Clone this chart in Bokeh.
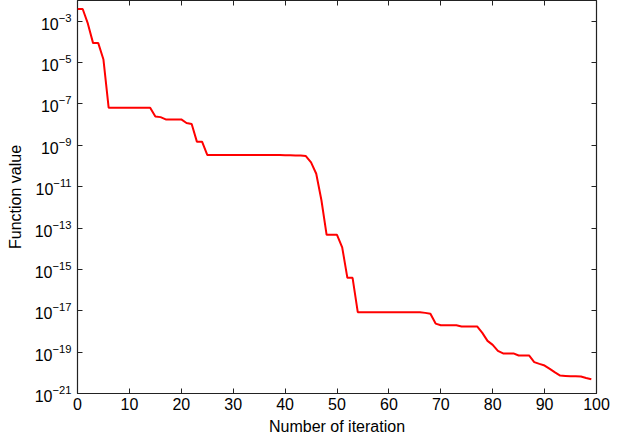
from bokeh.plotting import figure
from bokeh.models import FixedTicker, LogAxis, LinearAxis, CustomJSTickFormatter, Range1d
from bokeh.embed import file_html
from bokeh.resources import INLINE

iterations = list(range(100))
function_value = [
    3.9e-3, 3.9e-3, 7.6e-4, 8.7e-5, 8.7e-5, 1.4e-5, 6.6e-8, 6.6e-8, 6.6e-8, 6.6e-8,
    6.6e-8, 6.6e-8, 6.6e-8, 6.6e-8, 6.6e-8, 2.45e-8, 2.3e-8, 1.78e-8, 1.78e-8, 1.78e-8,
    1.78e-8, 1.2e-8, 1.07e-8, 1.5e-9, 1.5e-9, 3.4e-10, 3.4e-10, 3.4e-10, 3.4e-10, 3.4e-10,
    3.4e-10, 3.4e-10, 3.4e-10, 3.4e-10, 3.4e-10, 3.4e-10, 3.4e-10, 3.4e-10, 3.4e-10, 3.35e-10,
    3.3e-10, 3.28e-10, 3.24e-10, 3.2e-10, 3.0e-10, 1.48e-10, 4.2e-11, 2.2e-12, 4.7e-14, 4.7e-14,
    4.7e-14, 1.17e-14, 3.9e-16, 3.9e-16, 8.5e-18, 8.5e-18, 8.5e-18, 8.5e-18, 8.5e-18, 8.5e-18,
    8.5e-18, 8.5e-18, 8.5e-18, 8.5e-18, 8.5e-18, 8.5e-18, 8.5e-18, 7.9e-18, 7.2e-18, 2.4e-18,
    2.0e-18, 2.0e-18, 2.0e-18, 2.0e-18, 1.74e-18, 1.74e-18, 1.74e-18, 1.74e-18, 8.5e-19, 3.5e-19,
    2.24e-19, 1.15e-19, 8.7e-20, 8.7e-20, 8.7e-20, 6.9e-20, 6.9e-20, 6.9e-20, 3.3e-20, 2.7e-20,
    2.24e-20, 1.55e-20, 1.05e-20, 7.4e-21, 7.1e-21, 6.8e-21, 6.8e-21, 6.6e-21, 5.6e-21, 4.9e-21,
]
x_ticks = [0, 10, 20, 30, 40, 50, 60, 70, 80, 90, 100]
y_ticks = [1e-21, 1e-19, 1e-17, 1e-15, 1e-13, 1e-11, 1e-9, 1e-7, 1e-5, 1e-3]

FONT = "Liberation Sans"

p = figure(width=613, height=438, y_axis_type="log",
           x_range=Range1d(0, 100), y_range=Range1d(1e-21, 1e-2),
           output_backend="svg", toolbar_location=None,
           min_border_left=77, min_border_right=17, min_border_top=0, min_border_bottom=45)
p.grid.visible = False
p.outline_line_color = "#222222"
p.outline_line_width = 1.2
p.background_fill_color = "white"
p.border_fill_color = "white"

p.line(iterations, function_value, line_color="#ff0000", line_width=2)

xt = FixedTicker(ticks=x_ticks)
yt = FixedTicker(ticks=y_ticks)

bottom = p.below[0]
left = p.left[0]
bottom.ticker = xt
bottom.axis_label = "Number of iteration"
left.ticker = yt
left.axis_label = "Function value"

blank = CustomJSTickFormatter(code="return ''")
top = LinearAxis(ticker=xt, formatter=blank)
right = LogAxis(ticker=yt, formatter=blank)
p.add_layout(top, "above")
p.add_layout(right, "right")

for ax in [bottom, left, top, right]:
    ax.axis_line_color = None
    ax.major_tick_in = 5
    ax.major_tick_out = 0
    ax.major_tick_line_color = "#222222"
    ax.minor_tick_line_color = None
    ax.major_label_text_font = FONT
    ax.major_label_text_font_size = "16px"
    ax.major_label_text_color = "black"
    ax.axis_label_text_font = FONT
    ax.axis_label_text_font_size = "16px"
    ax.axis_label_text_font_style = "normal"
    ax.axis_label_text_color = "black"

top.major_label_standoff = 0
right.major_label_standoff = 0
bottom.major_label_standoff = 4
left.major_label_standoff = 6
bottom.axis_label_standoff = 5
left.axis_label_standoff = 8

open("out.html", "w").write(file_html(p, INLINE))
